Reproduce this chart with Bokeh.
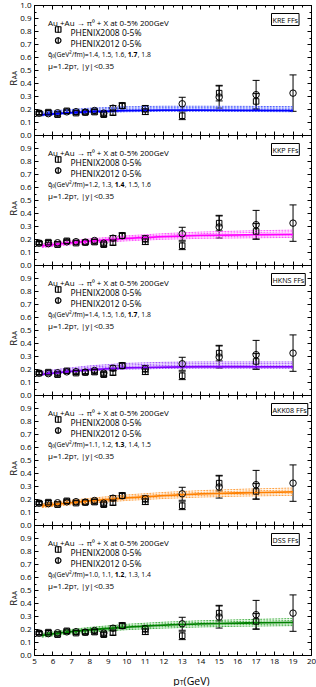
import math
from bokeh.plotting import figure
from bokeh.layouts import column, row
from bokeh.models import (LinearAxis, FixedTicker, Range1d, Label, Whisker, TeeHead,
                          ColumnDataSource, CustomJSTickFormatter, PrintfTickFormatter)
from bokeh.core.properties import value
from bokeh.embed import file_html
from bokeh.resources import INLINE

# ---------------- data ----------------
pt08 = [5.25, 5.75, 6.25, 6.75, 7.25, 7.75, 8.25, 8.75, 9.25, 9.75, 11, 13, 15, 17]
raa08 = [0.172, 0.180, 0.160, 0.190, 0.172, 0.177, 0.180, 0.160, 0.175, 0.229, 0.183, 0.152, 0.326, 0.262]
err08 = [0.012, 0.012, 0.012, 0.012, 0.012, 0.013, 0.015, 0.015, 0.018, 0.020, 0.022, 0.030, 0.060, 0.060]

pt12 = [5.25, 5.75, 6.25, 6.75, 7.25, 7.75, 8.25, 8.75, 9.25, 9.75, 11, 13, 15, 17, 19]
raa12 = [0.172, 0.168, 0.175, 0.182, 0.183, 0.180, 0.192, 0.172, 0.210, 0.229, 0.206, 0.244, 0.296, 0.314, 0.326]
err12 = [0.010, 0.010, 0.010, 0.010, 0.012, 0.012, 0.013, 0.015, 0.020, 0.022, 0.025, 0.050, 0.085, 0.110, 0.140]

series_labels = ["PHENIX2008  0-5%", "PHENIX2012  0-5%"]
panel_names = ["KRE FFs", "KKP FFs", "HKNS FFs", "AKK08 FFs", "DSS FFs"]
q0_values = [[1.4, 1.5, 1.6, 1.7, 1.8],
             [1.2, 1.3, 1.4, 1.5, 1.6],
             [1.4, 1.5, 1.6, 1.7, 1.8],
             [1.1, 1.2, 1.3, 1.4, 1.5],
             [1.0, 1.1, 1.2, 1.3, 1.4]]
best_index = [3, 2, 3, 2, 2]

curve_pt = [5.4, 6.5, 8, 10, 12, 14, 16.5, 19]
kre_curves = [[0.180, 0.195, 0.210, 0.221, 0.225, 0.225, 0.224, 0.222],
              [0.172, 0.187, 0.201, 0.211, 0.214, 0.214, 0.213, 0.211],
              [0.165, 0.179, 0.192, 0.201, 0.204, 0.204, 0.203, 0.201],
              [0.158, 0.171, 0.183, 0.192, 0.195, 0.195, 0.194, 0.192],
              [0.151, 0.164, 0.175, 0.183, 0.186, 0.186, 0.185, 0.183]]
kkp_curves = [[0.165, 0.183, 0.205, 0.228, 0.245, 0.257, 0.266, 0.272],
              [0.158, 0.175, 0.196, 0.218, 0.234, 0.245, 0.253, 0.259],
              [0.151, 0.168, 0.188, 0.208, 0.222, 0.231, 0.236, 0.240],
              [0.144, 0.161, 0.180, 0.199, 0.212, 0.220, 0.225, 0.228],
              [0.138, 0.154, 0.172, 0.190, 0.202, 0.209, 0.213, 0.216]]
hkns_curves = [[0.185, 0.205, 0.228, 0.247, 0.255, 0.258, 0.258, 0.258],
               [0.177, 0.196, 0.218, 0.235, 0.243, 0.245, 0.245, 0.245],
               [0.170, 0.188, 0.208, 0.224, 0.231, 0.233, 0.233, 0.232],
               [0.163, 0.180, 0.199, 0.213, 0.219, 0.221, 0.221, 0.220],
               [0.156, 0.172, 0.190, 0.203, 0.208, 0.210, 0.210, 0.209]]
akk_curves = [[0.168, 0.186, 0.209, 0.235, 0.254, 0.268, 0.280, 0.288],
              [0.160, 0.178, 0.199, 0.224, 0.242, 0.255, 0.266, 0.273],
              [0.152, 0.169, 0.190, 0.213, 0.230, 0.243, 0.252, 0.258],
              [0.145, 0.161, 0.181, 0.203, 0.219, 0.231, 0.239, 0.245],
              [0.138, 0.154, 0.172, 0.193, 0.208, 0.219, 0.227, 0.232]]
dss_curves = [[0.170, 0.192, 0.216, 0.240, 0.256, 0.267, 0.276, 0.284],
              [0.162, 0.184, 0.207, 0.229, 0.244, 0.255, 0.263, 0.269],
              [0.155, 0.176, 0.198, 0.219, 0.233, 0.243, 0.250, 0.255],
              [0.148, 0.168, 0.189, 0.209, 0.222, 0.231, 0.238, 0.242],
              [0.141, 0.160, 0.180, 0.199, 0.211, 0.220, 0.226, 0.230]]
all_curves = [kre_curves, kkp_curves, hkns_curves, akk_curves, dss_curves]

solid_colors = ["#0000ff", "#ff00ff", "#8000ff", "#ff8000", "#008000"]
dash_colors = ["#5060ff", "#ff50ff", "#a050ff", "#ffa040", "#40b040"]

x_ticks = [5, 6, 7, 8, 9, 10, 11, 12, 13, 14, 15, 16, 17, 18, 19, 20]
x_minor = [5.5, 6.5, 7.5, 8.5, 9.5, 10.5, 11.5, 12.5, 13.5, 14.5, 15.5, 16.5, 17.5, 18.5, 19.5]
y_ticks = [0.0, 0.1, 0.2, 0.3, 0.4, 0.5, 0.6, 0.7, 0.8, 0.9, 1.0]
y_minor = [0.05, 0.15, 0.25, 0.35, 0.45, 0.55, 0.65, 0.75, 0.85, 0.95]

# ---------------- layout ----------------
FW, FH = 277, 130
TOP = 5
GAP = 7
LEFT_COL = 17
YL_W = 33
BORDER_L = 15
BORDER_R = 7
BOTTOM_TICKS = 13
XT_H = 18
FONT = "Open Sans"
TOTAL_H = TOP + 5 * FH + BOTTOM_TICKS + XT_H
X0, X1 = 5, 20

CW = {'.': .266, ',': .25, ' ': .26, 'q': .613, '(': .297, ')': .297, 'G': .682,
      'e': .561, 'V': .579, '/': .363, 'f': .352, 'm': .928, '=': .572, '\u00b2': .36,
      '\u2080': .36, '\u0302': 0.0, '\u03bc': .62, 'p': .613, 'T': .556, '|': .55,
      'y': .5, '<': .572}


def text_w(s, size):
    return sum(CW.get(c, .572) for c in s) * size


def add_axis(p, side, ticks, minor, fmt):
    ax = LinearAxis(ticker=FixedTicker(ticks=ticks, minor_ticks=minor),
                    major_tick_in=4, major_tick_out=0, minor_tick_in=2, minor_tick_out=0,
                    axis_line_color="black", major_tick_line_color="black",
                    minor_tick_line_color="black", axis_line_width=1)
    if fmt is None:
        ax.formatter = CustomJSTickFormatter(code="return ''")
        ax.major_label_text_font_size = "0px"
        ax.major_label_standoff = 0
    else:
        ax.formatter = PrintfTickFormatter(format=fmt)
        ax.major_label_text_font = FONT
        ax.major_label_text_font_size = "8px"
        ax.major_label_text_color = "black"
        ax.major_label_standoff = 3
    p.add_layout(ax, side)


def lab(p, x, y, text, size, **kw):
    l = Label(x=x, y=y, x_units="screen", y_units="screen", text=text,
              text_font=FONT, text_font_size=f"{size}px", text_color="black",
              text_baseline=kw.pop("baseline", "alphabetic"), **kw)
    p.add_layout(l)
    return l


def px_to_x(px):
    return X0 + px / FW * (X1 - X0)


def px_below_top_to_y(px):
    return 1 - px / FH


figs = []
for i in range(5):
    first, last = i == 0, i == 4
    p = figure(frame_width=FW, frame_height=FH, x_range=Range1d(X0, X1), y_range=Range1d(0, 1),
               x_axis_type=None, y_axis_type=None, output_backend="svg", toolbar_location=None,
               min_border_left=BORDER_L, min_border_right=BORDER_R,
               min_border_top=TOP if first else 0,
               min_border_bottom=BOTTOM_TICKS if last else GAP,
               background_fill_color=None, border_fill_color=None,
               outline_line_color="black")
    if not first:
        p.styles = {"margin-top": f"-{GAP}px"}
    yt = y_ticks if first else y_ticks[:-1]
    add_axis(p, "left", yt, y_minor, "%.1f")
    add_axis(p, "right", yt, y_minor, None)
    add_axis(p, "above", x_ticks, x_minor, None)
    add_axis(p, "below", x_ticks, x_minor, "%d" if last else None)

    # theory curves
    for j, vals in enumerate(all_curves[i]):
        if j == best_index[i]:
            continue
        p.line(curve_pt, vals, line_color=dash_colors[i], line_dash="2 1", line_width=1)
    p.line(curve_pt, all_curves[i][best_index[i]], line_color=solid_colors[i], line_width=1.8)

    # data
    s08 = ColumnDataSource(dict(x=pt08, y=raa08,
                                lo=[a - b for a, b in zip(raa08, err08)],
                                hi=[a + b for a, b in zip(raa08, err08)]))
    s12 = ColumnDataSource(dict(x=pt12, y=raa12,
                                lo=[a - b for a, b in zip(raa12, err12)],
                                hi=[a + b for a, b in zip(raa12, err12)]))
    for s in (s08, s12):
        p.add_layout(Whisker(source=s, base="x", lower="lo", upper="hi", dimension="height",
                             line_color="black", line_width=1,
                             upper_head=TeeHead(size=7, line_color="black", line_width=1),
                             lower_head=TeeHead(size=7, line_color="black", line_width=1)))
    p.scatter("x", "y", source=s08, marker="square", size=5.5, fill_color=None,
              line_color="black", line_width=1)
    p.scatter("x", "y", source=s12, marker="circle", size=6.5, fill_color=None,
              line_color="black", line_width=1)

    # legend keys (drawn at fixed offsets in the panel's top-left corner)
    kx = px_to_x(23.7)
    ky = [px_below_top_to_y(24), px_below_top_to_y(35)]
    for mk, yy in zip(["square", "circle"], ky):
        p.scatter([kx], [yy], marker=mk, size=5.5, fill_color=None, line_color="black",
                  line_width=1.2)
        p.scatter([kx], [yy], marker="dash", angle=math.pi / 2, size=6.5, line_color="black",
                  line_width=1.2)
    lab(p, 36, FH - 27, series_labels[0], 8.5)
    lab(p, 36, FH - 38, series_labels[1], 8.5)

    # annotation texts
    x0 = 13.5
    lab(p, x0, FH - 16.5, "Au +Au \u2192 \u03c0\u2070 + X at 0-5% 200GeV", 8)
    qs = q0_values[i]
    b = best_index[i]
    pre = "q\u0302\u2080(GeV\u00b2/fm)=" + "".join(f"{v:.1f}, " for v in qs[:b])
    mid = f"{qs[b]:.1f}"
    post = "".join(f", {v:.1f}" for v in qs[b + 1:])
    qsz = 6.8
    qy = FH - 48.5
    lab(p, x0, qy, pre, qsz)
    x1 = x0 + text_w(pre, qsz)
    lab(p, x1, qy, mid, qsz, text_font_style="bold")
    x2 = x1 + text_w(mid, qsz) + 0.5
    lab(p, x2, qy, post, qsz)

    my = FH - 59.5
    m1 = "\u03bc=1.2p"
    lab(p, x0, my, m1, 8)
    xm = x0 + text_w(m1, 8)
    lab(p, xm, my - 2, "T", 5.5)
    lab(p, xm + text_w("T", 5.5), my, ",  |y|<0.35", 8)

    lab(p, FW - 40, FH - 14, panel_names[i], 7.2, text_align="left", baseline="middle",
        border_line_color="black", border_line_width=1, background_fill_color="white",
        padding=1)

    figs.append(p)

# x-axis title strip
CW_TOTAL = BORDER_L + FW + BORDER_R
xt = figure(frame_width=CW_TOTAL, frame_height=XT_H,
            x_range=Range1d(0, CW_TOTAL), y_range=Range1d(0, XT_H),
            x_axis_type=None, y_axis_type=None, output_backend="svg", toolbar_location=None,
            min_border=0, outline_line_color=None, background_fill_color=None,
            border_fill_color=None)
xt_parts = ["p", "T", "(GeV)"]
xt_sizes = [10.5, 7, 10.5]
xt_drop = [0, 1.5, 0]
xpos = BORDER_L + 123.7
for s, fs, d in zip(xt_parts, xt_sizes, xt_drop):
    xt.text(x=[xpos], y=[6 - d], text=[s], text_font=value(FONT), text_font_size=f"{fs}px",
            text_color="black", text_baseline="alphabetic", text_align="left")
    xpos += text_w(s, fs)

# y-axis title column (wider than its slot; the panels overlap its transparent right part)
yl = figure(frame_width=YL_W, frame_height=TOTAL_H, x_range=Range1d(0, YL_W),
            y_range=Range1d(0, TOTAL_H), x_axis_type=None, y_axis_type=None,
            output_backend="svg", toolbar_location=None, min_border=0, outline_line_color=None,
            background_fill_color=None, border_fill_color=None)
r_y = [TOTAL_H - (TOP + k * FH + 80) for k in range(5)]
yl.text(x=[13.0] * 5, y=r_y, text=["R"] * 5, angle=math.pi / 2, text_font=value(FONT),
        text_font_size="9px", text_color="black", text_baseline="alphabetic", text_align="left")
yl.text(x=[14.3] * 5, y=[v + 6.3 for v in r_y], text=["AA"] * 5, angle=math.pi / 2,
        text_font=value(FONT), text_font_size="6.5px", text_color="black",
        text_baseline="alphabetic", text_align="left")

panels = column(*figs, xt, spacing=0)
panels.styles = {"margin-left": f"-{YL_W - LEFT_COL}px"}
layout = row(yl, panels, spacing=0)
open("out.html", "w").write(file_html(layout, INLINE))
